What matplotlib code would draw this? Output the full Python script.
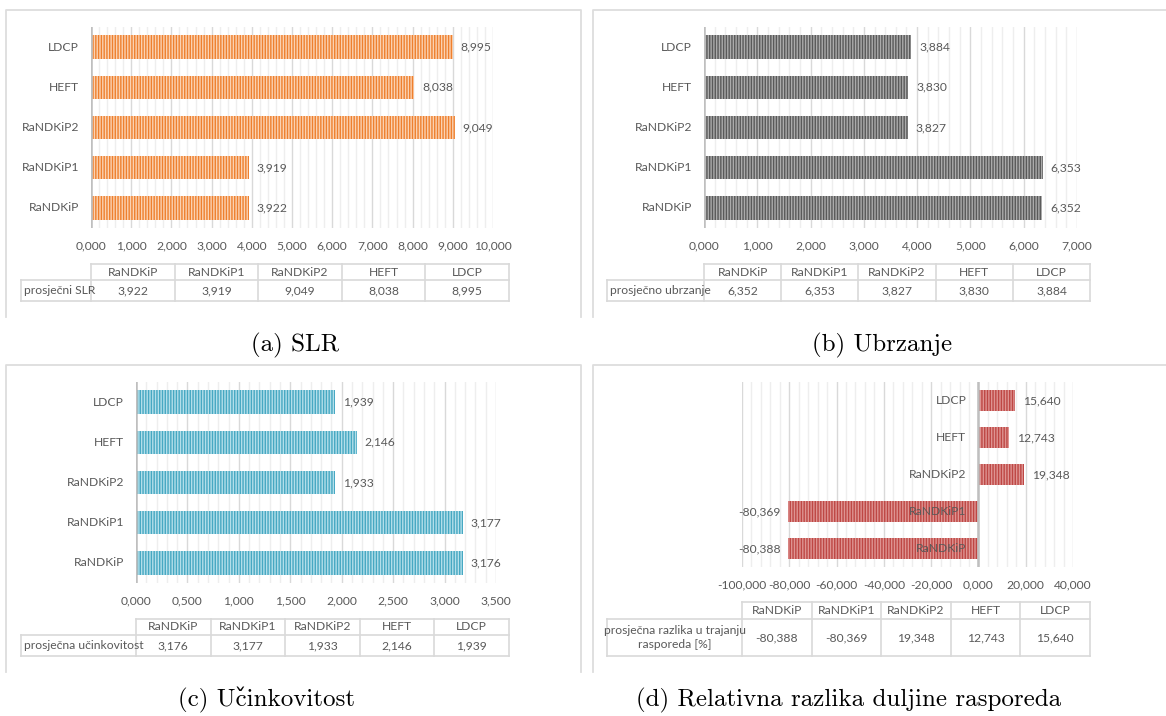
import matplotlib
matplotlib.use('Agg')
import matplotlib.pyplot as plt
from matplotlib.ticker import MultipleLocator, FuncFormatter

W, H = 1166, 716

categories = ['RaNDKiP', 'RaNDKiP1', 'RaNDKiP2', 'HEFT', 'LDCP']
slr = [3.922, 3.919, 9.049, 8.038, 8.995]
speedup = [6.352, 6.353, 3.827, 3.830, 3.884]
efficiency = [3.176, 3.177, 1.933, 2.146, 1.939]
rel_diff = [-80.388, -80.369, 19.348, 12.743, 15.640]

row_labels = ['prosječni SLR', 'prosječno ubrzanje', 'prosječna učinkovitost',
              'prosječna razlika u trajanju\nrasporeda [%]']
# cmr10 has no č: c plus a combining caron taken from the fallback font
captions = ['(a) SLR', '(b) Ubrzanje', '(c) Uc\u030cinkovitost',
            '(d) Relativna razlika duljine rasporeda']

TXT = '#595959'
LINE = '#D9D9D9'

plt.rcParams['font.family'] = ['Lato', 'DejaVu Sans']
plt.rcParams['hatch.linewidth'] = 1.0


def fmt(v):
    return f'{v:.3f}'.replace('.', ',')


# pixel geometry of each panel
panels = [
    dict(values=slr, face='#FBD2B2', stripe='#EE802E', xlim=(0, 10), major=1, minor=0.2,
         ax=(91, 27, 493, 228), tab=(21, 91, 509, 264, 280, 301),
         frame=(6, 10, 581, 317), cap=(295, 345)),
    dict(values=speedup, face='#ABABAB', stripe='#595959', xlim=(0, 7), major=1, minor=0.2,
         ax=(704, 27, 1077, 228), tab=(607, 704, 1090, 264, 280, 301),
         frame=(593, 10, 1175, 317), cap=(882, 345)),
    dict(values=efficiency, face='#B3DFEA', stripe='#46A8C2', xlim=(0, 3.5), major=0.5, minor=0.1,
         ax=(136, 382, 496, 583), tab=(21, 136, 509, 619, 635, 656),
         frame=(6, 365, 581, 672), cap=(266, 700)),
    dict(values=rel_diff, face='#DE9492', stripe='#BE4744', xlim=(-100, 40), major=20, minor=4,
         ax=(742, 382, 1073, 567), tab=(607, 742, 1090, 602, 619, 656),
         frame=(593, 365, 1175, 672), cap=(849, 700)),
]

fig = plt.figure(figsize=(W / 100, H / 100), dpi=100)
over = fig.add_axes([0, 0, 1, 1], zorder=-1)
over.set_xlim(0, W)
over.set_ylim(H, 0)
over.axis('off')

for p, row_label, caption in zip(panels, row_labels, captions):
    l, t, r, b = p['ax']
    ax = fig.add_axes([l / W, 1 - b / H, (r - l) / W, (b - t) / H])
    vals = p['values']
    ypos = range(len(categories))
    ax.barh(ypos, vals, height=0.58, color=p['face'], edgecolor=p['stripe'],
            hatch='||||||', linewidth=0, zorder=2)
    ax.set_xlim(*p['xlim'])
    ax.set_ylim(-0.5, len(categories) - 0.5)
    ax.xaxis.set_major_locator(MultipleLocator(p['major']))
    ax.xaxis.set_minor_locator(MultipleLocator(p['minor']))
    ax.xaxis.set_major_formatter(FuncFormatter(lambda v, pos: fmt(v)))
    ax.grid(axis='x', which='major', color='#D9D9D9', lw=1.0)
    ax.grid(axis='x', which='minor', color='#EEEEEE', lw=1.0)
    ax.set_axisbelow(True)
    for s in ax.spines.values():
        s.set_visible(False)
    ax.axvline(0, color='#BFBFBF', lw=1.8, zorder=3)
    ax.set_yticks([])
    ax.tick_params(axis='x', which='both', length=0, pad=9, labelsize=8.7, labelcolor=TXT)
    for i, (cat, v) in enumerate(zip(categories, vals)):
        ax.annotate(cat, (0, i), xytext=(-12, 0), textcoords='offset pixels',
                    ha='right', va='center', fontsize=8.7, color=TXT, zorder=4)
        off = 8 if v >= 0 else -8
        ax.annotate(fmt(v), (v, i), xytext=(off, 0), textcoords='offset pixels',
                    ha='left' if v >= 0 else 'right', va='center', fontsize=8.7,
                    color=TXT, zorder=4)

    # data table below the chart
    lx, dx, ex, ty, my, by = p['tab']
    n = len(categories)
    cw = (ex - dx) / n
    over.plot([dx, ex], [ty, ty], color=LINE, lw=1.2)
    over.plot([lx, ex], [my, my], color=LINE, lw=1.2)
    over.plot([lx, ex], [by, by], color=LINE, lw=1.2)
    over.plot([lx, lx], [my, by], color=LINE, lw=1.2)
    for k in range(n + 1):
        over.plot([dx + k * cw, dx + k * cw], [ty, by], color=LINE, lw=1.2)
    for k, (cat, v) in enumerate(zip(categories, vals)):
        cx = dx + (k + 0.5) * cw
        over.text(cx, (ty + my) / 2, cat, ha='center', va='center', fontsize=8.7, color=TXT)
        over.text(cx, (my + by) / 2, fmt(v), ha='center', va='center', fontsize=8.7, color=TXT)
    if '\n' in row_label:
        over.text((lx + dx) / 2, (my + by) / 2, row_label, ha='center', va='center',
                  fontsize=8.7, color=TXT, linespacing=1.3)
    else:
        over.text(lx + 3, (my + by) / 2, row_label, ha='left', va='center',
                  fontsize=8.7, color=TXT)

    # light frame around the chart
    fx0, fy0, fx1, fy1 = p['frame']
    over.plot([fx0, fx0, fx1, fx1], [fy1, fy0, fy0, fy1], color='#DDDDDD', lw=1.3)

    over.text(p['cap'][0], p['cap'][1], caption, ha='center', va='center',
              fontsize=18, family=['cmr10', 'DejaVu Serif'], color='black')

fig.savefig('out.png', dpi=100)
